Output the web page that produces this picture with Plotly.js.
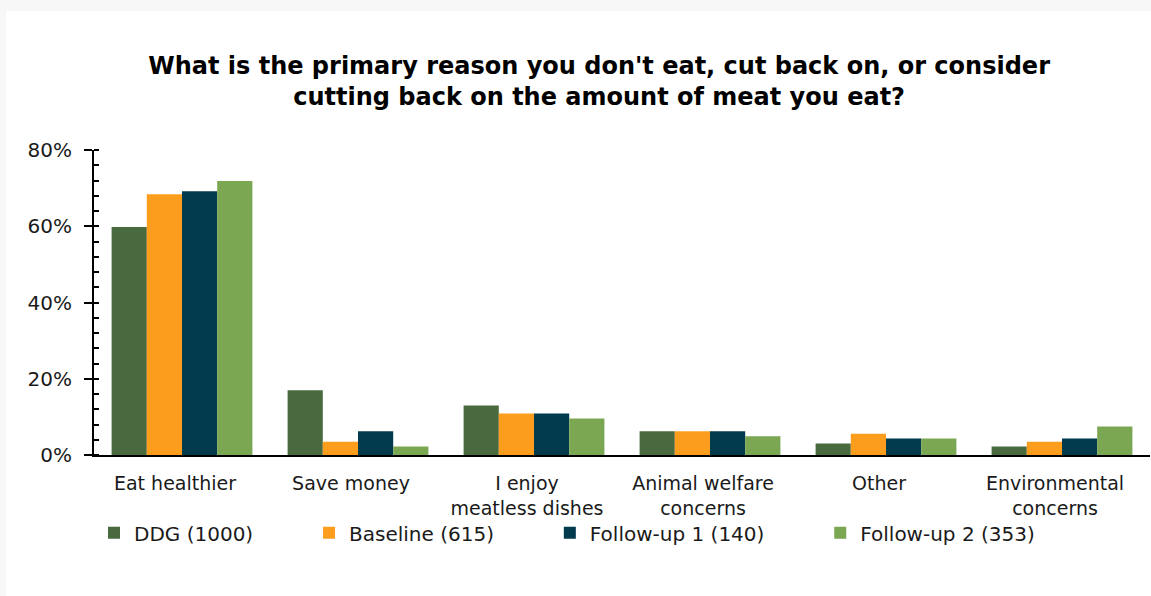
<!DOCTYPE html>
<html>
<head>
<meta charset="utf-8">
<script src="https://cdn.plot.ly/plotly-3.0.1.min.js"></script>
<style>
html,body{margin:0;padding:0;background:#f7f7f7;}
#card{position:absolute;left:6px;top:11px;width:1145px;height:585px;background:#fff;}
</style>
</head>
<body>
<div id="card"></div>
<script>
const categories = ["Eat healthier", "Save money", "I enjoy<br>meatless dishes", "Animal welfare<br>concerns", "Other", "Environmental<br>concerns"];
const seriesNames = ["DDG (1000)", "Baseline (615)", "Follow-up 1 (140)", "Follow-up 2 (353)"];
const ddg = [59.8, 17.0, 13.0, 6.2, 3.0, 2.2];
const baseline = [68.4, 3.5, 10.9, 6.2, 5.6, 3.5];
const followUp1 = [69.2, 6.2, 10.9, 6.2, 4.3, 4.3];
const followUp2 = [71.9, 2.2, 9.6, 4.9, 4.3, 7.5];
const colors = ["#496a3e", "#fd9d1d", "#033b4e", "#7ba652"];
const yTicks = [0, 20, 40, 60, 80];
const yTickLabels = ["0%", "20%", "40%", "60%", "80%"];

const pad = "\u00a0".repeat(8);
const allSeries = [ddg, baseline, followUp1, followUp2];
const traces = allSeries.map((vals, i) => ({
  type: "bar",
  name: seriesNames[i] + (i < allSeries.length - 1 ? pad : ""),
  x: categories,
  y: vals,
  marker: {color: colors[i], line: {width: 0}},
  hoverinfo: "none"
}));

const FONT = "DejaVu Sans, Verdana, sans-serif";
const layout = {
  width: 1145,
  height: 585,
  paper_bgcolor: "#ffffff",
  plot_bgcolor: "#ffffff",
  margin: {l: 88, r: 1, t: 139, b: 141},
  barmode: "group",
  bargap: 0.2,
  bargroupgap: 0,
  font: {family: FONT, color: "#1a1a1a"},
  title: {
    text: "What is the primary reason you don't eat, cut back on, or consider<br>cutting back on the amount of meat you eat?",
    font: {family: FONT, size: 24, weight: 700, color: "#000"},
    x: 0.518, xanchor: "center", y: 0.893, yanchor: "middle"
  },
  xaxis: {
    showline: true, linecolor: "#000", linewidth: 2,
    ticks: "", showgrid: false, zeroline: false,
    tickfont: {size: 19, color: "#1a1a1a"},
    ticklabelstandoff: 10,
    ticklabelshift: -7,
    fixedrange: true
  },
  yaxis: {
    range: [0, 80],
    tickvals: yTicks, ticktext: yTickLabels,
    showline: true, linecolor: "#000", linewidth: 2,
    ticks: "outside", ticklen: 8, tickwidth: 2, tickcolor: "#000",
    minor: {dtick: 4, ticks: "inside", ticklen: 5, tickwidth: 2, tickcolor: "#000", showgrid: false},
    showgrid: false, zeroline: false,
    tickfont: {size: 20, color: "#1a1a1a"},
    ticklabelstandoff: 8,
    fixedrange: true
  },
  showlegend: true,
  legend: {
    orientation: "h",
    x: 0, xanchor: "left",
    y: -0.255, yanchor: "middle",
    bgcolor: "rgba(0,0,0,0)",
    font: {size: 20, color: "#1a1a1a"},
    traceorder: "normal"
  }
};

Plotly.newPlot("card", traces, layout, {displayModeBar: false, staticPlot: true});
</script>
</body>
</html>
